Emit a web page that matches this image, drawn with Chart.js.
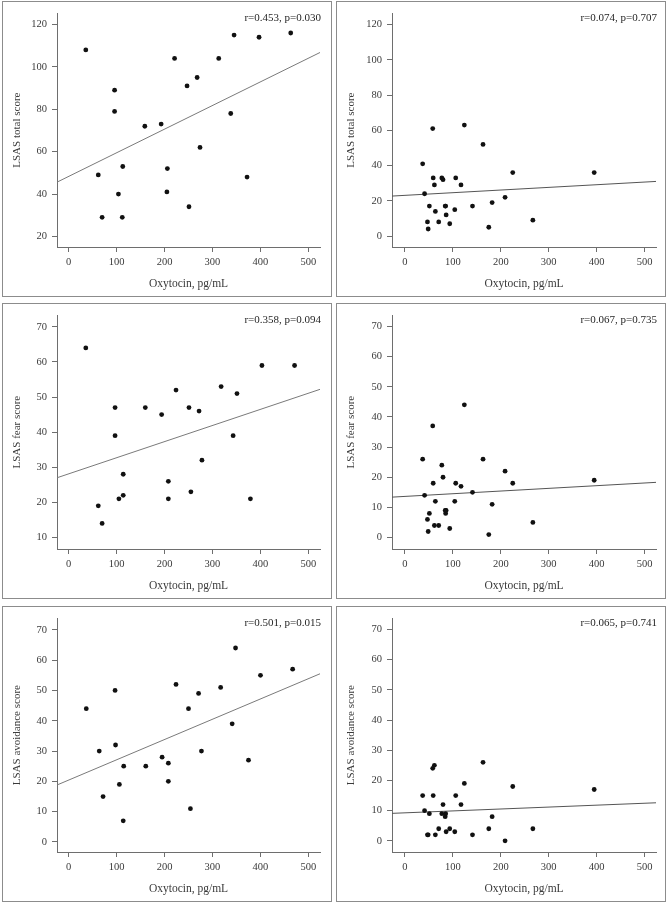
<!DOCTYPE html>
<html>
<head>
<meta charset="utf-8">
<title>Oxytocin and LSAS scores</title>
<script src="https://cdn.jsdelivr.net/npm/chart.js@4.4.1/dist/chart.umd.min.js"></script>
<style>
  body { margin: 0; background: #fff; width: 669px; height: 905px; position: relative; overflow: hidden; }
  .panel { position: absolute; width: 330px; height: 296px; box-sizing: border-box; border: 1px solid #8c8c8c; background: #fff; }
  .panel canvas { display: block; }
</style>
</head>
<body>
<div class="panel" style="left:2px;top:1px"><canvas id="totalA" width="328" height="294"></canvas></div>
<div class="panel" style="left:336px;top:1px"><canvas id="totalB" width="328" height="294"></canvas></div>
<div class="panel" style="left:2px;top:303px"><canvas id="fearA" width="328" height="294"></canvas></div>
<div class="panel" style="left:336px;top:303px"><canvas id="fearB" width="328" height="294"></canvas></div>
<div class="panel" style="left:2px;top:606px"><canvas id="avoidA" width="328" height="294"></canvas></div>
<div class="panel" style="left:336px;top:606px"><canvas id="avoidB" width="328" height="294"></canvas></div>
<script>
// tick labels
const xTicks = [0, 100, 200, 300, 400, 500];
const totalTicksA = [20, 40, 60, 80, 100, 120];
const totalTicksB = [0, 20, 40, 60, 80, 100, 120];
const fearTicksA = [10, 20, 30, 40, 50, 60, 70];
const subTicks = [0, 10, 20, 30, 40, 50, 60, 70];

// left column (n=23), oxytocin read separately on each panel
const totalAX = [36, 62, 70, 96, 96, 104, 112, 113, 159, 193, 205, 206, 221, 247, 251, 268, 274, 313, 338, 345, 372, 397, 463];
const totalAY = [108, 49, 29, 89, 79, 40, 29, 53, 72, 73, 41, 52, 104, 91, 34, 95, 62, 104, 78, 115, 48, 114, 116];
const fearAX = [36, 62, 70, 97, 97, 105, 114, 114, 160, 194, 208, 208, 224, 251, 255, 272, 278, 318, 343, 351, 379, 403, 471];
const fearAY = [64, 19, 14, 47, 39, 21, 28, 22, 47, 45, 26, 21, 52, 47, 23, 46, 32, 53, 39, 51, 21, 59, 59];
const avoidAX = [37, 64, 72, 97, 98, 106, 114, 115, 161, 195, 208, 208, 224, 250, 254, 271, 277, 317, 341, 348, 375, 400, 467];
const avoidAY = [44, 30, 15, 50, 32, 19, 7, 25, 25, 28, 26, 20, 52, 44, 11, 49, 30, 51, 39, 64, 27, 55, 57];

// right column (n=28)
const oxytocinB = [37, 41, 47, 48.5, 51, 58, 59, 61.5, 63.5, 70.5, 77, 79.5, 84, 85, 86, 93.5, 104, 106, 117, 124, 141, 163, 175, 182, 209, 225, 267, 395];
const totalBY = [41, 24, 8, 4, 17, 61, 33, 29, 14, 8, 33, 32, 17, 17, 12, 7, 15, 33, 29, 63, 17, 52, 5, 19, 22, 36, 9, 36];
const fearBY = [26, 14, 6, 2, 8, 37, 18, 4, 12, 4, 24, 20, 9, 8, 9, 3, 12, 18, 17, 44, 15, 26, 1, 11, 22, 18, 5, 19];
const avoidBY = [15, 10, 2, 2, 9, 24, 15, 25, 2, 4, 9, 12, 8, 9, 3, 4, 3, 15, 12, 19, 2, 26, 4, 8, 0, 18, 4, 17];

// fitted lines, read at both ends of the x axis
const fitXA = [-24, 524];
const fitXB = [-27, 524];
const fitTotalA = [45.6, 106.8];
const fitTotalB = [22.7, 31.0];
const fitFearA = [27.0, 52.2];
const fitFearB = [13.4, 18.3];
const fitAvoidA = [18.8, 55.5];
const fitAvoidB = [9.1, 12.6];

const statLabels = ['r=0.453, p=0.030', 'r=0.074, p=0.707', 'r=0.358, p=0.094', 'r=0.067, p=0.735', 'r=0.501, p=0.015', 'r=0.065, p=0.741'];

const serif = "'Liberation Serif', 'Times New Roman', serif";
const axisColor = '#6e6e6e';
const textColor = '#3a3a3a';

const statText = {
    id: 'statText',
    afterDraw(chart, args, opts) {
        const { ctx, chartArea } = chart;
        ctx.save();
        ctx.font = '11px ' + serif;
        ctx.fillStyle = '#262626';
        ctx.textAlign = 'right';
        ctx.textBaseline = 'middle';
        ctx.fillText(opts.text, chartArea.right + 1, chartArea.top + 4.5);
        ctx.restore();
    }
};

function pairs(xs, ys) {
    return xs.map((v, i) => ({ x: v, y: ys[i] }));
}

function makePanel(id, p) {
    new Chart(id, {
        type: 'scatter',
        data: {
            datasets: [{
                data: pairs(p.x, p.y),
                pointRadius: 2.4,
                pointHoverRadius: 2.4,
                backgroundColor: '#111',
                borderWidth: 0
            }, {
                type: 'line',
                data: pairs(p.fitX, p.fitY),
                borderColor: p.right ? '#555' : '#7a7a7a',
                borderWidth: 1,
                pointRadius: 0,
                fill: false
            }]
        },
        options: {
            responsive: false,
            animation: false,
            events: [],
            layout: { padding: { top: 11, right: p.right ? 9 : 11, left: 0, bottom: 0 } },
            plugins: {
                legend: { display: false },
                tooltip: { enabled: false },
                statText: { text: p.stat }
            },
            scales: {
                x: {
                    type: 'linear',
                    min: p.right ? -27 : -24,
                    max: 524,
                    afterBuildTicks: s => { s.ticks = xTicks.map(v => ({ value: v })); },
                    afterFit: s => { s.height = 49; },
                    grid: { drawOnChartArea: false, drawTicks: true, tickLength: 5, color: axisColor },
                    border: { display: true, color: axisColor, width: 1 },
                    ticks: { padding: 4, color: textColor, font: { family: serif, size: 10.5 } },
                    title: { display: true, text: 'Oxytocin, pg/mL', color: textColor, padding: { top: 0, bottom: 5 }, font: { family: serif, size: 11.5 } }
                },
                y: {
                    type: 'linear',
                    min: p.yMin,
                    max: p.yMax,
                    afterBuildTicks: s => { s.ticks = p.yTicks.map(v => ({ value: v })); },
                    afterFit: s => { s.width = p.right ? 55 : 54; },
                    grid: { drawOnChartArea: false, drawTicks: true, tickLength: 5, color: axisColor },
                    border: { display: true, color: axisColor, width: 1 },
                    ticks: { padding: 5, color: textColor, font: { family: serif, size: 10.5 } },
                    title: { display: true, text: p.title, color: textColor, padding: { top: 8, bottom: 0 }, font: { family: serif, size: 11 } }
                }
            }
        },
        plugins: [statText]
    });
}

makePanel('totalA', { x: totalAX, y: totalAY, fitX: fitXA, fitY: fitTotalA, yMin: 15, yMax: 125.3, yTicks: totalTicksA, title: 'LSAS total score', stat: statLabels[0], right: false });
makePanel('totalB', { x: oxytocinB, y: totalBY, fitX: fitXB, fitY: fitTotalB, yMin: -6.2, yMax: 126.4, yTicks: totalTicksB, title: 'LSAS total score', stat: statLabels[1], right: true });
makePanel('fearA', { x: fearAX, y: fearAY, fitX: fitXA, fitY: fitFearA, yMin: 6.7, yMax: 73.3, yTicks: fearTicksA, title: 'LSAS fear score', stat: statLabels[2], right: false });
makePanel('fearB', { x: oxytocinB, y: fearBY, fitX: fitXB, fitY: fitFearB, yMin: -3.8, yMax: 73.7, yTicks: subTicks, title: 'LSAS fear score', stat: statLabels[3], right: true });
makePanel('avoidA', { x: avoidAX, y: avoidAY, fitX: fitXA, fitY: fitAvoidA, yMin: -3.3, yMax: 73.8, yTicks: subTicks, title: 'LSAS avoidance score', stat: statLabels[4], right: false });
makePanel('avoidB', { x: oxytocinB, y: avoidBY, fitX: fitXB, fitY: fitAvoidB, yMin: -3.7, yMax: 73.7, yTicks: subTicks, title: 'LSAS avoidance score', stat: statLabels[5], right: true });
</script>
</body>
</html>
